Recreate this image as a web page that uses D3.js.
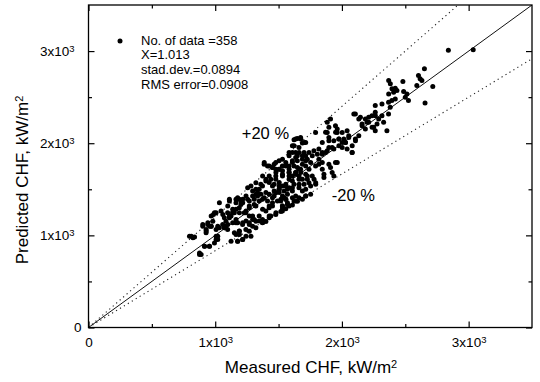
<!DOCTYPE html>
<html>
<head>
<meta charset="utf-8">
<script src="https://cdn.jsdelivr.net/npm/d3@7"></script>
<style>
  body { margin: 0; background: #fff; }
  svg { display: block; font-family: "Liberation Sans", Arial, sans-serif; }
</style>
</head>
<body>
<div id="chart"></div>
<script>
// axis ticks (kW/m2)
const majorTicks = [0, 1000, 2000, 3000];
const minorTicks = [500, 1500, 2500];
const tickMantissa = ['0', '1x10', '2x10', '3x10'];
const tickExponent = ['', '3', '3', '3'];

// statistics box
const statLines = ['No. of data =358', 'X=1.013', 'stad.dev.=0.0894', 'RMS error=0.0908'];

// +-20 % bands
const bandFactors = [1.2, 1 / 1.2];
const bandLabels = ['+20 %', '-20 %'];
const bandLabelAt = [[1210, 2050], [1920, 1370]];

// [measured, predicted] CHF, kW/m2
const pointsLow = [
  [876,791],[915,882],[954,882],[797,991],[837,983],[928,1027],[1007,954],[1020,991],[902,1100],[941,1118],
  [968,1100],[986,1227],[1007,1245],[1033,1354],[1072,1191],[1085,1100],[1098,1063],[1072,1082],[1112,1391],[1164,1391],
  [1203,1372],[1098,1245],[1125,1209],[1138,1245],[1177,936],[1216,954],[1282,991],[1190,1045],[1242,1063],[1269,1136],
  [1112,1373],[1177,1409],[1217,1355],[1243,1427],[1190,1300],[1151,1246],[1112,1209],[1060,1227],[994,1246],[968,1209],
  [902,1118],[942,1136],[968,1100],[929,1046],[1020,1100],[1073,1082],[1099,1118],[1138,1136],[1177,1136],[1243,1155],
  [1190,1046],[1164,1009],[1217,955],[1177,937],[1007,991],[1020,955],[994,918],[811,991],[824,973],[876,809],
  [916,882],[955,882],[889,791],[1125,937],[981,1154],[955,1100],[928,1063],[1033,1082],[1007,1063],[1046,1263]
];
const pointsCore = [
  [1295,1172],[1321,1154],[1373,1172],[1242,1245],[1269,1318],[1308,1391],[1321,1445],[1347,1500],[1373,1536],[1282,1536],
  [1321,1572],[1400,1609],[1426,1645],[1478,1718],[1386,1772],[1426,1754],[1465,1772],[1504,1809],[1530,1754],[1256,1518],
  [1295,1481],[1334,1427],[1373,1391],[1413,1372],[1452,1354],[1517,1372],[1544,1409],[1426,1209],[1530,1263],[1530,1318],
  [1557,1391],[1583,1609],[1609,1645],[1635,1681],[1583,1718],[1622,1754],[1661,1718],[1688,1772],[1648,1809],[1530,1536],
  [1570,1500],[1478,1463],[1504,1500],[1465,1554],[1688,1609],[1740,1572],[1766,1645],[1714,1663],[1740,1718],[1792,1754],
  [1479,1682],[1531,1700],[1583,1682],[1636,1663],[1675,1682],[1727,1645],[1780,1609],[1374,1645],[1426,1573],[1505,1573],
  [1557,1554],[1609,1518],[1662,1554],[1714,1500],[1321,1500],[1361,1445],[1400,1464],[1452,1409],[1505,1464],[1557,1391],
  [1609,1409],[1217,1391],[1269,1373],[1321,1318],[1374,1282],[1426,1300],[1479,1245],[1531,1318],[1583,1318],[1636,1373],
  [1688,1391],[1164,1354],[1138,1282],[1191,1245],[1243,1264],[1295,1209],[1348,1155],[1269,1118],[1321,1082],[1217,1136],
  [1164,1173],[1112,1191],[1793,1554],[1753,1445],[1714,1427],[1649,1370],[1609,1330],[1557,1290],[1518,1260],[1439,1209],
  [1400,1150],[1374,1140],[1151,1027],[1191,1009],[1243,991],[1269,1045],[1387,1790],[1413,1754],[1452,1736],[1504,1718],
  [1531,1663],[1478,1645],[1439,1609],[1400,1591],[1360,1554],[1583,1645],[1635,1681],[1674,1718],[1714,1754],[1661,1609],
  [1622,1554],[1583,1518],[1544,1482],[1504,1536],[1465,1482],[1426,1445],[1387,1409],[1347,1372],[1308,1336],[1269,1300],
  [1334,1463],[1295,1427],[1256,1391],[1190,1391],[1203,1336],[1164,1282],[1138,1245],[1085,1154],[1059,1118],[1099,1318],
  [1229,1245],[1269,1209],[1308,1173],[1347,1209],[1400,1263],[1452,1318],[1491,1372],[1531,1427],[1570,1445],[1609,1482],
  [1661,1518],[1701,1554],[1727,1609],[1164,1136],[1216,1118],[1295,1100],[1373,1136],[1426,1191],[1478,1227],[1531,1282],
  [1570,1336],[1622,1372],[1661,1409],[1714,1427],[1531,1827],[1478,1790],[1452,1736],[1505,1718],[1557,1754],[1609,1790],
  [1649,1736],[1583,1681],[1531,1645],[1478,1609],[1452,1536],[1505,1500],[1557,1536],[1609,1590],[1662,1645],[1465,1427],
  [1518,1391],[1570,1354],[1531,1300],[1426,1318],[1688,1481],[1635,1427]
];
const pointsHigh = [
  [1818,1772],[1845,1790],[1818,1827],[1583,1899],[1635,1899],[1688,1863],[1740,1899],[1779,1918],[1818,1936],[1845,1881],
  [1871,1899],[1609,1972],[1648,2052],[1688,2001],[1622,2038],[1635,1845],[1714,1809],[1858,1627],[1923,1681],[1949,1790],
  [1936,1645],[1845,1718],[1897,1772],[1897,1954],[1936,1936],[1976,1972],[2002,1954],[2028,2008],[2054,2081],[2080,1899],
  [2041,1936],[1884,2227],[1949,2190],[1962,2117],[2002,2117],[2041,2136],[1884,2117],[1897,2063],[1936,2027],[1976,2045],
  [2015,2045],[2106,2045],[2106,2317],[2146,2281],[2185,2263],[2159,2190],[2211,2227],[2237,2299],[2263,2336],[2290,2263],
  [2316,2299],[2329,2227],[2355,2136],[2263,2136],[2250,2172],[2263,2408],[2316,2426],[2368,2445],[2394,2463],[2421,2481],
  [2368,2317],[2381,2390],[2525,2463],[2656,2437],[1792,2117],[1845,2008],[1897,2027],[1635,2045],[1674,2063],[1714,2009],
  [1661,1954],[1701,1900],[1727,1827],[1648,1863],[1609,1809],[1583,1754],[1557,1790],[1897,2172],[1910,2263],[1871,2118],
  [1950,2118],[1976,2045],[2002,2008],[1963,2154],[2094,2317],[2133,2263],[2159,2208],[2198,2227],[2211,2281],[2264,2299],
  [2277,2208],[2238,2172],[2185,2154],[2133,2081],[2107,2027],[2081,1972],[2054,2063],[2028,2008],[1923,1954],[1884,1918],
  [1845,1900],[1806,1881],[1766,1863],[1675,2045],[1701,2008],[1622,1972],[1609,1899],[1583,1863],[1662,1899],[1714,1863],
  [1753,1790],[1688,1827],[2081,1900],[1963,1790],[1910,1736],[1858,1663],[1793,1572],[1753,1536],
  [2840,3008],[3036,3015],[2651,2808],[2604,2735],[2617,2699],[2591,2626],[2631,2681],[2717,2615],[2481,2670],[2487,2561],
  [2513,2535],[2500,2499],[2369,2681],[2382,2644],[2395,2590],[2369,2535],[2421,2597],[2434,2572],[2408,2553]
];
const chfPoints = pointsLow.concat(pointsCore, pointsHigh);

const W = 540, H = 382;
const plot = {left: 88.5, right: 532, top: 5, bottom: 327.5};

const svg = d3.select('#chart').append('svg')
  .attr('width', W)
  .attr('height', H);

const x = d3.scaleLinear().domain([0, 3500]).range([plot.left, plot.right]);
const y = d3.scaleLinear().domain([0, 3500]).range([plot.bottom, plot.top]);

svg.append('clipPath').attr('id', 'plotClip')
  .append('rect')
    .attr('x', plot.left).attr('y', plot.top)
    .attr('width', plot.right - plot.left).attr('height', plot.bottom - plot.top);

// reference lines
const lineGen = d3.line().x(d => x(d[0])).y(d => y(d[1]));
const lines = svg.append('g').attr('clip-path', 'url(#plotClip)');
lines.append('path')
  .attr('d', lineGen([[0, 0], [3500, 3500]]))
  .attr('fill', 'none').attr('stroke', '#111').attr('stroke-width', 1);
bandFactors.forEach(f => {
  lines.append('path')
    .attr('d', lineGen([[0, 0], [3500, 3500 * f]]))
    .attr('fill', 'none').attr('stroke', '#222').attr('stroke-width', 1.1)
    .attr('stroke-dasharray', '1.2,3.4');
});

// points
svg.append('g')
  .selectAll('circle')
  .data(chfPoints)
  .enter()
  .append('circle')
    .attr('cx', d => x(d[0]))
    .attr('cy', d => y(d[1]))
    .attr('r', 2.5)
    .attr('fill', '#000');

// axes, ticks pointing inward on all four sides
function styleAxis(g) {
  g.select('.domain').remove();
  g.selectAll('line').attr('stroke', '#000').attr('stroke-width', 1.2);
  g.selectAll('text').attr('fill', '#000').attr('font-size', 13.5)
    .attr('font-family', '"Liberation Sans", Arial, sans-serif');
}
// "1x10" + raised "3"
function powerLabels(g) {
  g.selectAll('.tick text').each(function(d) {
    const i = majorTicks.indexOf(d);
    const t = d3.select(this).text(null);
    t.append('tspan').text(tickMantissa[i]);
    if (tickExponent[i]) {
      t.append('tspan').attr('dy', '-0.45em').attr('font-size', 9.5).text(tickExponent[i]);
    }
  });
}

svg.append('g')
  .attr('transform', `translate(0,${plot.bottom})`)
  .call(d3.axisBottom(x).tickValues(majorTicks).tickSize(-6).tickPadding(10))
  .call(styleAxis)
  .call(powerLabels);
svg.append('g')
  .attr('transform', `translate(0,${plot.bottom})`)
  .call(d3.axisBottom(x).tickValues(minorTicks).tickSize(-3.5).tickFormat(''))
  .call(styleAxis);

const yAxis = svg.append('g')
  .attr('transform', `translate(${plot.left},0)`)
  .call(d3.axisLeft(y).tickValues(majorTicks).tickSize(-6).tickPadding(14))
  .call(styleAxis)
  .call(powerLabels);
yAxis.selectAll('.tick').filter(d => d === 0).select('text').attr('x', -7);
svg.append('g')
  .attr('transform', `translate(${plot.left},0)`)
  .call(d3.axisLeft(y).tickValues(minorTicks).tickSize(-3.5).tickFormat(''))
  .call(styleAxis);

[[d3.axisTop, x, `translate(0,${plot.top})`], [d3.axisRight, y, `translate(${plot.right},0)`]].forEach(([ax, sc, tr]) => {
  svg.append('g').attr('transform', tr)
    .call(ax(sc).tickValues(majorTicks).tickSize(-6).tickFormat(''))
    .call(styleAxis);
  svg.append('g').attr('transform', tr)
    .call(ax(sc).tickValues(minorTicks).tickSize(-3.5).tickFormat(''))
    .call(styleAxis);
});

// frame
svg.append('rect')
  .attr('x', plot.left).attr('y', plot.top)
  .attr('width', plot.right - plot.left).attr('height', plot.bottom - plot.top)
  .attr('fill', 'none').attr('stroke', '#000').attr('stroke-width', 1.3);

// axis titles
function unitTitle(sel, label) {
  sel.append('tspan').text(label + ', kW/m');
  sel.append('tspan').attr('dy', '-0.5em').attr('font-size', 11).text('2');
}
svg.append('text')
  .attr('x', 311).attr('y', 373)
  .attr('text-anchor', 'middle').attr('font-size', 17)
  .call(unitTitle, 'Measured CHF');
svg.append('text')
  .attr('transform', 'translate(28,180) rotate(-90)')
  .attr('text-anchor', 'middle').attr('font-size', 17)
  .call(unitTitle, 'Predicted CHF');

// band labels
bandLabels.forEach((t, i) => {
  svg.append('text')
    .attr('x', x(bandLabelAt[i][0])).attr('y', y(bandLabelAt[i][1]))
    .attr('font-size', 16.5)
    .text(t);
});

// statistics legend
svg.append('circle').attr('cx', 120).attr('cy', 41).attr('r', 2.5).attr('fill', '#000');
svg.append('g').selectAll('text')
  .data(statLines)
  .enter()
  .append('text')
    .attr('x', 141)
    .attr('y', (d, i) => 44.5 + i * 14.8)
    .attr('font-size', 13)
    .text(d => d);
</script>
</body>
</html>
